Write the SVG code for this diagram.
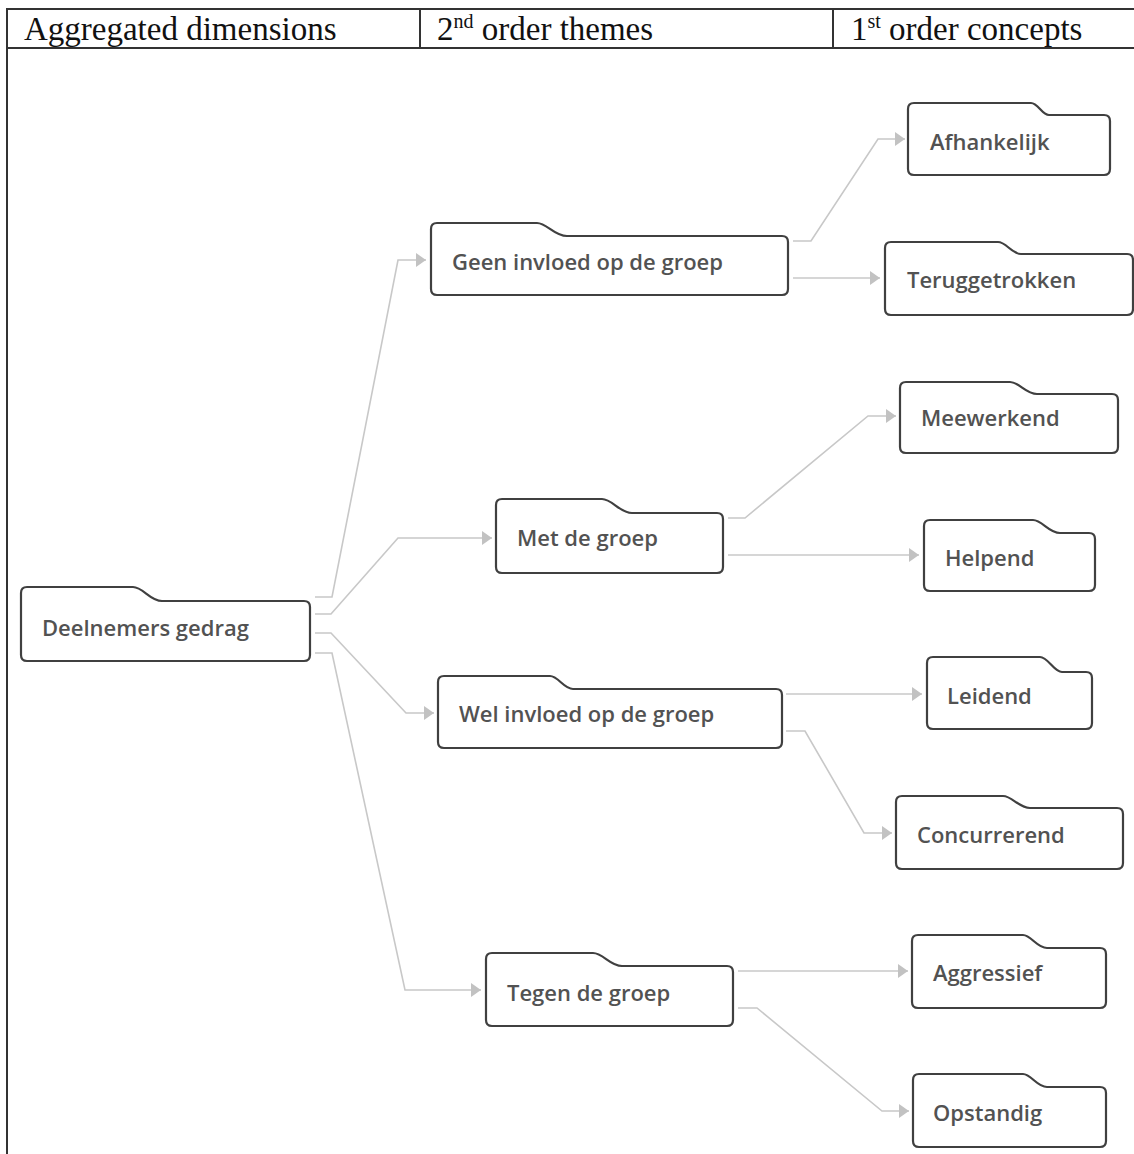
<svg xmlns="http://www.w3.org/2000/svg" width="1134" height="1154" viewBox="0 0 1134 1154">
<style>
.tbl{stroke:#333;stroke-width:2;fill:none}
.hdr{font-family:"Liberation Serif","Times New Roman",serif;font-size:33px;fill:#111}
.sup{font-size:20px}
.node path{fill:#fff;stroke:#404040;stroke-width:2.2}
.node text{font-family:"Open Sans","Noto Sans",sans-serif;font-weight:600;font-size:22px;fill:#525252}
.conn path{fill:none;stroke:#c8c8c8;stroke-width:1.6;marker-end:url(#arr)}
</style>
<defs>
<marker id="arr" markerUnits="userSpaceOnUse" viewBox="0 0 10 14" refX="10" refY="7" markerWidth="10" markerHeight="14" orient="auto">
<path d="M0,0 L10,7 L0,14 Z" fill="#c2c2c2"/>
</marker>
</defs>
<rect width="1134" height="1154" fill="#fff"/>
<g id="table">
<line class="tbl" x1="7" y1="9" x2="1134" y2="9"/>
<line class="tbl" x1="7" y1="48" x2="1134" y2="48"/>
<line class="tbl" x1="7" y1="8" x2="7" y2="1154"/>
<line class="tbl" x1="420" y1="9" x2="420" y2="48"/>
<line class="tbl" x1="833" y1="9" x2="833" y2="48"/>
<text class="hdr" x="24" y="40">Aggregated dimensions</text>
<text class="hdr" x="437" y="40">2<tspan class="sup" dy="-12">nd</tspan><tspan dy="12"> order themes</tspan></text>
<text class="hdr" x="851" y="40">1<tspan class="sup" dy="-12">st</tspan><tspan dy="12"> order concepts</tspan></text>
</g>
<g id="connectors" class="conn">
<path d="M315,597 H332 L398,260 H426"/>
<path d="M315,614 H331 L398,538 H492"/>
<path d="M315,633 H331 L406,713 H434"/>
<path d="M315,653 H332 L405,990 H481"/>
<path d="M793,241 H811 L878,139 H905"/>
<path d="M793,278 H880"/>
<path d="M728,518 H745 L868,416 H896"/>
<path d="M728,555 H919"/>
<path d="M786,694 H922"/>
<path d="M786,731 H805 L864,833 H892"/>
<path d="M738,971 H908"/>
<path d="M738,1008 H757 L882,1111 H909"/>
</g>
<g id="n-deelnemers" class="node">
<path d="M21,593 Q21,587 27,587 H133 C143,587 150,601 162,601 H304 Q310,601 310,607 V655 Q310,661 304,661 H27 Q21,661 21,655 Z"/>
<text x="42" y="636">Deelnemers gedrag</text>
</g>
<g id="n-geen" class="node">
<path d="M431,229 Q431,223 437,223 H537 C547,223 554,236 567,236 H782 Q788,236 788,242 V289 Q788,295 782,295 H437 Q431,295 431,289 Z"/>
<text x="452" y="270">Geen invloed op de groep</text>
</g>
<g id="n-afhankelijk" class="node">
<path d="M908,109 Q908,103 914,103 H1031 C1038,103 1042,115 1049,115 H1104 Q1110,115 1110,121 V169 Q1110,175 1104,175 H914 Q908,175 908,169 Z"/>
<text x="930" y="150">Afhankelijk</text>
</g>
<g id="n-teruggetrokken" class="node">
<path d="M885,248 Q885,242 891,242 H998 C1006,242 1012,254 1021,254 H1127 Q1133,254 1133,260 V309 Q1133,315 1127,315 H891 Q885,315 885,309 Z"/>
<text x="907" y="288">Teruggetrokken</text>
</g>
<g id="n-met" class="node">
<path d="M496,505 Q496,499 502,499 H602 C612,499 620,513 632,513 H717 Q723,513 723,519 V567 Q723,573 717,573 H502 Q496,573 496,567 Z"/>
<text x="517" y="546">Met de groep</text>
</g>
<g id="n-meewerkend" class="node">
<path d="M900,388 Q900,382 906,382 H1010 C1019,382 1026,394 1037,394 H1112 Q1118,394 1118,400 V447 Q1118,453 1112,453 H906 Q900,453 900,447 Z"/>
<text x="921" y="426">Meewerkend</text>
</g>
<g id="n-helpend" class="node">
<path d="M924,526 Q924,520 930,520 H1033 C1042,520 1049,533 1060,533 H1089 Q1095,533 1095,539 V585 Q1095,591 1089,591 H930 Q924,591 924,585 Z"/>
<text x="945" y="566">Helpend</text>
</g>
<g id="n-wel" class="node">
<path d="M438,682 Q438,676 444,676 H550 C558,676 564,689 573,689 H776 Q782,689 782,695 V742 Q782,748 776,748 H444 Q438,748 438,742 Z"/>
<text x="459" y="722">Wel invloed op de groep</text>
</g>
<g id="n-leidend" class="node">
<path d="M927,663 Q927,657 933,657 H1040 C1048,657 1054,672 1062,672 H1086 Q1092,672 1092,678 V723 Q1092,729 1086,729 H933 Q927,729 927,723 Z"/>
<text x="947" y="704">Leidend</text>
</g>
<g id="n-concurrerend" class="node">
<path d="M896,802 Q896,796 902,796 H1003 C1012,796 1019,808 1030,808 H1117 Q1123,808 1123,814 V863 Q1123,869 1117,869 H902 Q896,869 896,863 Z"/>
<text x="917" y="843">Concurrerend</text>
</g>
<g id="n-tegen" class="node">
<path d="M486,959 Q486,953 492,953 H593 C603,953 610,966 622,966 H727 Q733,966 733,972 V1020 Q733,1026 727,1026 H492 Q486,1026 486,1020 Z"/>
<text x="507" y="1001">Tegen de groep</text>
</g>
<g id="n-aggressief" class="node">
<path d="M912,941 Q912,935 918,935 H1023 C1031,935 1037,948 1047,948 H1100 Q1106,948 1106,954 V1002 Q1106,1008 1100,1008 H918 Q912,1008 912,1002 Z"/>
<text x="933" y="981">Aggressief</text>
</g>
<g id="n-opstandig" class="node">
<path d="M913,1080 Q913,1074 919,1074 H1023 C1031,1074 1037,1087 1047,1087 H1100 Q1106,1087 1106,1093 V1141 Q1106,1147 1100,1147 H919 Q913,1147 913,1141 Z"/>
<text x="933" y="1121">Opstandig</text>
</g>
</svg>
